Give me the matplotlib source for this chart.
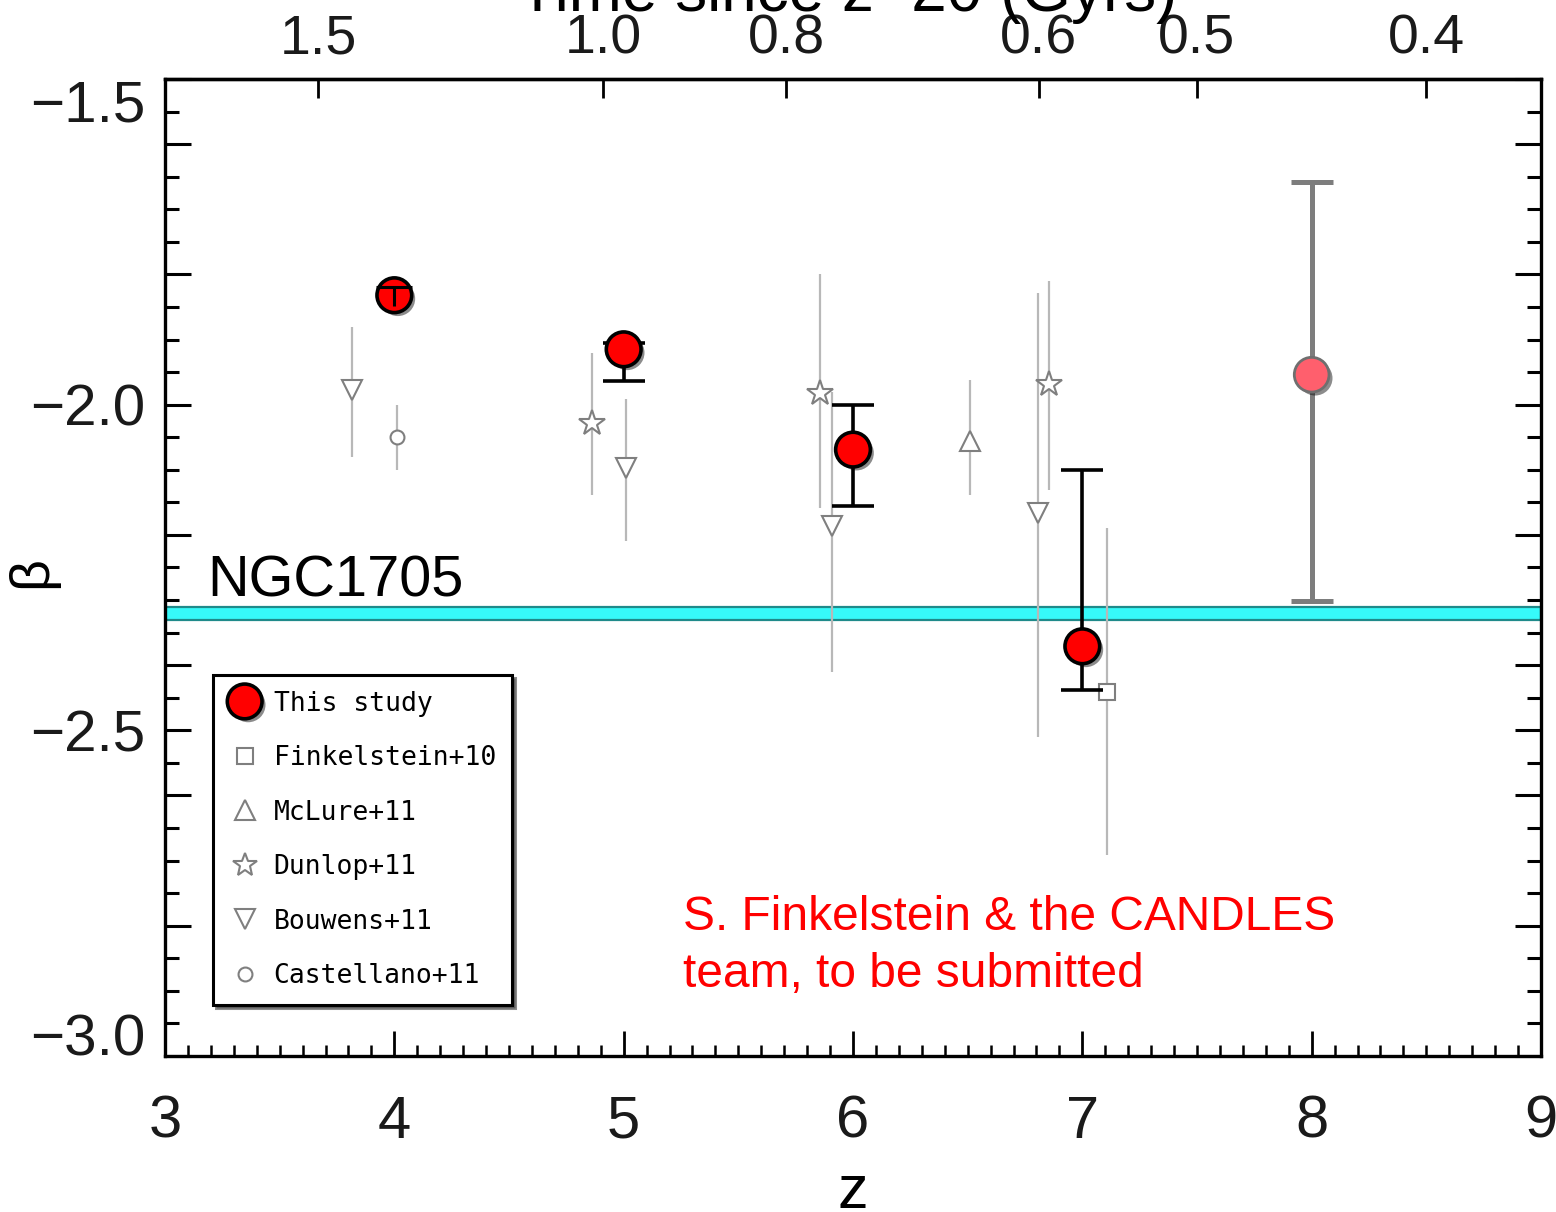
import matplotlib
matplotlib.use("Agg")
import matplotlib.pyplot as plt
import matplotlib.patheffects as pe
from matplotlib.lines import Line2D

plt.rcParams['font.family'] = ['Liberation Sans', 'DejaVu Sans']

# ---------------- data ----------------
# This study
this_z = [4.0, 5.0, 6.0, 7.0]
this_beta = [-1.832, -1.915, -2.069, -2.371]
this_err_lo = [0.017, 0.049, 0.087, 0.067]
this_err_hi = [0.012, 0.010, 0.068, 0.271]

# This study, z=8 (lighter point)
z8_z = [8.0]
z8_beta = [-1.954]
z8_err_lo = [0.347]
z8_err_hi = [0.296]

# Literature
fink_z = [7.106]
fink_beta = [-2.441]
fink_lo = [0.251]
fink_hi = [0.251]

mclure_z = [6.51]
mclure_beta = [-2.056]
mclure_lo = [0.082]
mclure_hi = [0.094]

dunlop_z = [4.861, 5.856, 6.856]
dunlop_beta = [-2.028, -1.982, -1.969]
dunlop_lo = [0.110, 0.176, 0.162]
dunlop_hi = [0.108, 0.182, 0.159]

bouwens_z = [3.814, 5.01, 5.907, 6.808]
bouwens_beta = [-1.977, -2.097, -2.187, -2.167]
bouwens_lo = [0.103, 0.113, 0.223, 0.343]
bouwens_hi = [0.097, 0.105, 0.207, 0.339]

castellano_z = [4.01]
castellano_beta = [-2.049]
castellano_lo = [0.051]
castellano_hi = [0.049]

ngc1705_band = [-2.331, -2.310]

top_tick_z = [3.667, 4.91, 5.71, 6.81, 7.50, 8.50]
top_tick_labels = ['1.5', '1.0', '0.8', '0.6', '0.5', '0.4']

y_major = [-3.0, -2.8, -2.6, -2.5, -2.4, -2.2, -2.0, -1.8, -1.6, -1.5]
y_labels = ['−3.0', '', '', '−2.5', '', '', '−2.0', '', '', '−1.5']
x_major = [3, 4, 5, 6, 7, 8, 9]

# ---------------- figure ----------------
W, H = 1556, 1212
fig = plt.figure(figsize=(W / 100, H / 100), dpi=100)
fig.patch.set_facecolor('white')
ax = fig.add_axes([165 / W, 1 - 1056 / H, (1541 - 165) / W, (1056 - 79) / H])
ax.set_xlim(3, 9)
ax.set_ylim(-3.0, -1.5)

for s in ax.spines.values():
    s.set_linewidth(2.4)
    s.set_color('black')

ax.set_xticks(x_major)
ax.set_xticklabels([str(v) for v in x_major])
ax.set_xticks([3 + 0.1 * i for i in range(61)], minor=True)
ax.set_yticks(y_major)
ax.set_yticklabels(y_labels)
ax.set_yticks([-3.0 + 0.05 * i for i in range(31)], minor=True)

ax.tick_params(axis='x', which='major', direction='in', length=18, width=2.0,
               top=False, bottom=True, labelsize=43, pad=28, colors='black',
               labelcolor='#1a1a1a')
ax.tick_params(axis='x', which='minor', direction='in', length=8, width=1.8,
               top=False, bottom=True)
ax.tick_params(axis='y', which='major', direction='in', length=19, width=2.2,
               left=True, right=True, labelsize=42, pad=14, labelcolor='#1a1a1a')
ax.tick_params(axis='y', which='minor', direction='in', length=10, width=2.2,
               left=True, right=True)

# end labels sit inside the axis range, as in the original
ylabs = ax.get_yticklabels()
ylabs[-1].set_va('top')
ylabs[0].set_va('baseline')

sec = ax.secondary_xaxis('top')
sec.set_xticks(top_tick_z)
sec.set_xticklabels(top_tick_labels)
sec.tick_params(axis='x', which='major', direction='in', length=14, width=2.0,
                labelsize=40, pad=10, labelcolor='#1a1a1a')
sec.tick_params(axis='x', which='minor', length=0)
sec.spines['top'].set_linewidth(2.4)

# NGC1705 band
ax.axhspan(ngc1705_band[0], ngc1705_band[1], facecolor='#36fafa',
           edgecolor='#1f8a8a', linewidth=1.6, zorder=2)
ax.text(3.185, -2.294, 'NGC1705', fontsize=41.5, color='black',
        va='baseline', ha='left', zorder=6)

# Literature points
gray_err = '#b8b8b8'
gray_mk = '#7f7f7f'
common = dict(ls='none', ecolor=gray_err, elinewidth=1.6, capsize=0,
              mfc='white', mec=gray_mk, mew=1.5, zorder=3)
ax.errorbar(fink_z, fink_beta, yerr=[fink_lo, fink_hi], marker='s', ms=12, **common)
ax.errorbar(mclure_z, mclure_beta, yerr=[mclure_lo, mclure_hi], marker='^', ms=15, **common)
ax.errorbar(dunlop_z, dunlop_beta, yerr=[dunlop_lo, dunlop_hi], marker='*', ms=19, **common)
ax.errorbar(bouwens_z, bouwens_beta, yerr=[bouwens_lo, bouwens_hi], marker='v', ms=15, **common)
ax.errorbar(castellano_z, castellano_beta, yerr=[castellano_lo, castellano_hi],
            marker='o', ms=10, **common)

# This study
shadow = [pe.SimplePatchShadow(offset=(2.5, -2.5), shadow_rgbFace='black', alpha=0.45),
          pe.Normal()]
# error bars under markers for z=5,6,7
ax.errorbar(this_z[1:], this_beta[1:], yerr=[this_err_lo[1:], this_err_hi[1:]],
            fmt='none', ecolor='black', elinewidth=2.6, capsize=15, capthick=2.6,
            zorder=4)
# z=8 point
ax.errorbar(z8_z, z8_beta, yerr=[z8_err_lo, z8_err_hi], fmt='none',
            ecolor='#7d7d7d', elinewidth=3.6, capsize=15, capthick=3.6, zorder=4)
ax.plot(z8_z, z8_beta, ls='none', marker='o', ms=25, mfc='#ff5f6d', mec='#6f6f6f',
        mew=2.0, zorder=5, path_effects=shadow)
ax.plot(this_z, this_beta, ls='none', marker='o', ms=25, mfc='#ff0000', mec='black',
        mew=2.6, zorder=5, path_effects=shadow)
# z=4 error bar drawn on top of its marker (T shape)
eb = ax.errorbar(this_z[:1], this_beta[:1], yerr=[this_err_lo[:1], this_err_hi[:1]],
                 fmt='none', ecolor='black', elinewidth=2.2, capsize=13, capthick=2.2,
                 zorder=6)
eb[1][0].set_visible(False)

# Legend
handles = [
    Line2D([], [], ls='none', marker='o', ms=25, mfc='#ff0000', mec='black', mew=2.6,
           path_effects=shadow),
    Line2D([], [], ls='none', marker='s', ms=11, mfc='white', mec=gray_mk, mew=1.5),
    Line2D([], [], ls='none', marker='^', ms=15, mfc='white', mec=gray_mk, mew=1.5),
    Line2D([], [], ls='none', marker='*', ms=18, mfc='white', mec=gray_mk, mew=1.5),
    Line2D([], [], ls='none', marker='v', ms=15, mfc='white', mec=gray_mk, mew=1.5),
    Line2D([], [], ls='none', marker='o', ms=10, mfc='white', mec=gray_mk, mew=1.5),
]
labels = ['This study', 'Finkelstein+10', 'McLure+11', 'Dunlop+11', 'Bouwens+11',
          'Castellano+11']
leg = ax.legend(handles, labels, loc='lower left',
                bbox_to_anchor=((213 - 165) / 1376, (1056 - 1005) / 977),
                borderaxespad=0, frameon=True, fancybox=False,
                shadow={'color': '0.25', 'alpha': 0.6},
                prop={'family': 'DejaVu Sans Mono', 'size': 19},
                handlelength=1.2, handletextpad=0.5, labelspacing=1.08,
                borderpad=0.6, markerscale=1.0)
leg.get_frame().set_edgecolor('black')
leg.get_frame().set_linewidth(2.2)
leg.set_zorder(7)

# Axis labels
ax.set_xlabel('z', fontsize=44)
ax.xaxis.label.set_va('baseline')
ax.xaxis.set_label_coords(0.5, (1056 - 1208) / 977)
ax.set_ylabel('β', fontsize=40)
ax.yaxis.set_label_coords((58 - 165) / 1376, (1056 - 572) / 977)

# Top-axis title (partly cut off by figure edge)
fig.text(848 / W, 1 - 11 / H, 'Time since z=20 (Gyrs)', fontsize=46,
         ha='center', va='baseline', color='black')

# Red annotation
fig.text(683 / W, 1 - 930 / H, 'S. Finkelstein & the CANDLES', fontsize=34.5,
         color='red', ha='left', va='baseline')
fig.text(683 / W, 1 - 987 / H, 'team, to be submitted', fontsize=34.5,
         color='red', ha='left', va='baseline')

fig.savefig('out.png', dpi=100, facecolor='white')
